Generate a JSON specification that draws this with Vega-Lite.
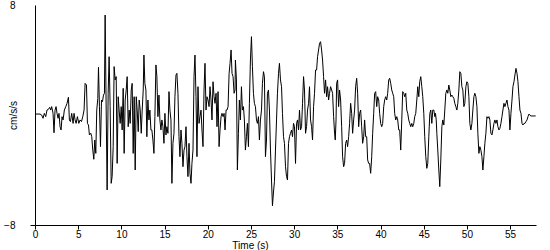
{
  "$schema": "https://vega.github.io/schema/vega-lite/v6.json",
  "autosize": {"type": "none"},
  "padding": {"left": 35, "top": 5, "right": 14, "bottom": 25},
  "width": 501,
  "height": 220,
  "background": "white",
  "config": {
    "view": {"stroke": null},
    "font": "Liberation Sans",
    "axis": {"grid": false, "domainColor": "black", "labelColor": "black", "titleColor": "black", "labelFont": "Liberation Sans", "titleFont": "Liberation Sans", "labelFontSize": 10, "titleFontSize": 10, "titleFontWeight": "normal"}
  },
  "data": {"values": [
    {"t":0,"a":0.07},{"t":0.58,"a":0.07},{"t":0.77,"a":0.0},{"t":0.93,"a":-0.24},{"t":1.08,"a":0.12},{"t":1.24,"a":-0.12},{"t":1.39,"a":0.36},{"t":1.55,"a":0.41},{"t":1.70,"a":0.56},{"t":1.82,"a":0.36},{"t":1.93,"a":0.61},{"t":2.09,"a":0.12},{"t":2.20,"a":-1.29},{"t":2.32,"a":0.36},{"t":2.44,"a":0.61},{"t":2.55,"a":0.12},{"t":2.67,"a":-0.24},{"t":2.78,"a":0.12},{"t":2.90,"a":-0.85},{"t":3.02,"a":-1.09},{"t":3.13,"a":-0.12},{"t":3.25,"a":-0.36},{"t":3.40,"a":0.36},{"t":3.56,"a":0.61},{"t":3.71,"a":0.85},{"t":3.87,"a":1.29},{"t":3.98,"a":-0.36},{"t":4.10,"a":-0.48},{"t":4.25,"a":0.12},{"t":4.41,"a":-0.61},{"t":4.52,"a":0.12},{"t":4.64,"a":-0.36},{"t":4.76,"a":-0.61},{"t":4.91,"a":-0.12},{"t":5.07,"a":-0.61},{"t":5.22,"a":-0.36},{"t":5.38,"a":-0.48},{"t":5.53,"a":-0.12},{"t":5.68,"a":0.36},{"t":5.80,"a":2.30},{"t":5.96,"a":2.18},{"t":6.07,"a":-0.61},{"t":6.19,"a":-0.73},{"t":6.30,"a":-1.45},{"t":6.46,"a":-1.33},{"t":6.57,"a":-1.58},{"t":6.69,"a":-2.55},{"t":6.81,"a":-3.22},{"t":6.92,"a":-1.82},{"t":7.04,"a":-2.79},{"t":7.15,"a":0.36},{"t":7.27,"a":1.21},{"t":7.35,"a":3.47},{"t":7.46,"a":0.61},{"t":7.58,"a":-2.30},{"t":7.70,"a":1.09},{"t":7.81,"a":0.97},{"t":7.93,"a":1.45},{"t":8.04,"a":1.58},{"t":8.12,"a":7.27},{"t":8.24,"a":0.36},{"t":8.35,"a":-5.45},{"t":8.47,"a":1.58},{"t":8.58,"a":4.24},{"t":8.70,"a":0.61},{"t":8.82,"a":-4.97},{"t":8.93,"a":-4.48},{"t":9.05,"a":-2.30},{"t":9.16,"a":3.52},{"t":9.28,"a":2.55},{"t":9.40,"a":2.79},{"t":9.51,"a":-3.52},{"t":9.63,"a":1.33},{"t":9.74,"a":0.36},{"t":9.86,"a":-0.61},{"t":9.98,"a":0.61},{"t":10.09,"a":-1.09},{"t":10.21,"a":1.94},{"t":10.32,"a":-2.79},{"t":10.44,"a":1.09},{"t":10.56,"a":1.82},{"t":10.67,"a":2.79},{"t":10.79,"a":-0.85},{"t":10.90,"a":0.36},{"t":11.02,"a":-0.61},{"t":11.14,"a":1.82},{"t":11.25,"a":2.30},{"t":11.37,"a":-2.79},{"t":11.48,"a":1.33},
    {"t":11.60,"a":-4.00},{"t":11.72,"a":1.33},{"t":11.83,"a":0.36},{"t":11.95,"a":-1.21},{"t":12.06,"a":1.09},{"t":12.18,"a":0.36},{"t":12.30,"a":-1.33},{"t":12.41,"a":0.36},{"t":12.53,"a":1.82},{"t":12.61,"a":4.36},{"t":12.72,"a":2.30},{"t":12.84,"a":1.82},{"t":12.95,"a":-1.58},{"t":13.07,"a":1.09},{"t":13.19,"a":-0.36},{"t":13.30,"a":0.36},{"t":13.42,"a":-1.09},{"t":13.53,"a":-1.09},{"t":13.65,"a":-1.82},{"t":13.77,"a":-2.79},{"t":13.88,"a":-0.12},{"t":14.00,"a":3.64},{"t":14.11,"a":2.79},{"t":14.23,"a":-0.12},{"t":14.35,"a":1.45},{"t":14.46,"a":-0.36},{"t":14.58,"a":-1.09},{"t":14.69,"a":-0.36},{"t":14.81,"a":-0.85},{"t":14.93,"a":-2.06},{"t":15.04,"a":0.12},{"t":15.16,"a":-1.45},{"t":15.27,"a":-0.85},{"t":15.39,"a":-1.33},{"t":15.51,"a":1.70},{"t":15.62,"a":0.36},{"t":15.74,"a":-0.36},{"t":15.85,"a":-4.97},{"t":15.97,"a":-2.06},{"t":16.09,"a":-1.33},{"t":16.20,"a":1.33},{"t":16.32,"a":2.91},{"t":16.43,"a":3.03},{"t":16.55,"a":1.58},{"t":16.67,"a":-1.58},{"t":16.78,"a":-3.03},{"t":16.90,"a":-1.09},{"t":17.01,"a":-2.06},{"t":17.13,"a":-3.76},{"t":17.25,"a":-2.55},{"t":17.36,"a":-2.30},{"t":17.48,"a":-0.85},{"t":17.59,"a":-3.03},{"t":17.71,"a":-4.48},{"t":17.83,"a":-2.06},{"t":17.94,"a":-4.24},{"t":18.06,"a":-4.97},{"t":18.17,"a":-3.52},{"t":18.29,"a":-2.55},{"t":18.41,"a":2.79},{"t":18.52,"a":4.36},{"t":18.64,"a":1.33},{"t":18.75,"a":-3.03},{"t":18.87,"a":2.06},{"t":18.99,"a":-0.61},{"t":19.10,"a":-0.12},{"t":19.22,"a":0.36},{"t":19.33,"a":-1.09},{"t":19.45,"a":-2.30},{"t":19.57,"a":1.82},{"t":19.68,"a":3.76},{"t":19.80,"a":0.36},{"t":19.91,"a":1.33},{"t":20.03,"a":1.09},{"t":20.15,"a":0.61},{"t":20.26,"a":2.06},{"t":20.38,"a":1.09},{"t":20.49,"a":-0.36},{"t":20.61,"a":2.42},{"t":20.73,"a":1.33},{"t":20.84,"a":0.85},{"t":20.96,"a":1.58},{"t":21.07,"a":-0.85},{"t":21.19,"a":1.70},{"t":21.31,"a":-2.30},{"t":21.42,"a":-1.09},{"t":21.54,"a":-0.12},{"t":21.65,"a":0.12},{"t":21.77,"a":-0.12},{"t":21.89,"a":0.12},{"t":22.00,"a":-1.09},{"t":22.12,"a":0.36},{"t":22.23,"a":0.36},{"t":22.35,"a":0.61},{"t":22.47,"a":3.03},{"t":22.58,"a":3.76},{"t":22.70,"a":4.73},{"t":22.81,"a":3.03},{"t":22.93,"a":2.79},{"t":23.05,"a":1.58},{"t":23.16,"a":1.82},
    {"t":23.20,"a":4.00},{"t":23.32,"a":2.55},{"t":23.43,"a":-4.00},{"t":23.55,"a":-1.33},{"t":23.66,"a":1.09},{"t":23.78,"a":-0.36},{"t":23.90,"a":2.06},{"t":24.01,"a":0.36},{"t":24.13,"a":0.61},{"t":24.24,"a":-0.36},{"t":24.36,"a":-2.55},{"t":24.48,"a":-1.58},{"t":24.59,"a":-0.61},{"t":24.71,"a":-2.30},{"t":24.82,"a":0.85},{"t":24.94,"a":4.00},{"t":25.06,"a":5.70},{"t":25.17,"a":3.52},{"t":25.29,"a":1.58},{"t":25.40,"a":0.85},{"t":25.52,"a":0.61},{"t":25.64,"a":-0.36},{"t":25.75,"a":-0.61},{"t":25.87,"a":-0.12},{"t":25.98,"a":-1.82},{"t":26.10,"a":-0.36},{"t":26.22,"a":0.36},{"t":26.33,"a":2.30},{"t":26.45,"a":3.15},{"t":26.56,"a":2.79},{"t":26.68,"a":-3.03},{"t":26.80,"a":-1.82},{"t":26.91,"a":1.58},{"t":27.03,"a":1.82},{"t":27.14,"a":0.36},{"t":27.26,"a":-2.55},{"t":27.38,"a":-4.73},{"t":27.49,"a":-6.6},{"t":27.61,"a":-5.6},{"t":27.72,"a":-4.85},{"t":27.84,"a":-2.55},{"t":27.96,"a":-0.36},{"t":28.07,"a":1.58},{"t":28.19,"a":3.03},{"t":28.30,"a":3.76},{"t":28.42,"a":2.55},{"t":28.54,"a":2.06},{"t":28.65,"a":0.12},{"t":28.77,"a":-1.58},{"t":28.88,"a":-2.06},{"t":29.00,"a":-3.76},{"t":29.12,"a":-4.48},{"t":29.23,"a":-4.73},{"t":29.35,"a":-2.06},{"t":29.46,"a":-1.58},{"t":29.58,"a":-1.33},{"t":29.70,"a":-1.09},{"t":29.81,"a":-1.58},{"t":29.93,"a":-0.61},{"t":30.04,"a":-0.85},{"t":30.16,"a":-3.52},{"t":30.28,"a":-0.61},{"t":30.39,"a":-0.36},{"t":30.51,"a":-1.09},{"t":30.62,"a":0.36},{"t":30.74,"a":-1.09},{"t":30.86,"a":-0.85},{"t":30.97,"a":0.85},{"t":31.09,"a":2.79},{"t":31.20,"a":1.82},{"t":31.32,"a":-1.33},{"t":31.44,"a":-0.85},{"t":31.55,"a":0.36},{"t":31.67,"a":0.85},{"t":31.78,"a":2.06},{"t":31.90,"a":-0.36},{"t":32.02,"a":-0.85},{"t":32.13,"a":-1.82},{"t":32.25,"a":0.61},{"t":32.36,"a":1.58},{"t":32.48,"a":3.27},{"t":32.60,"a":3.27},{"t":32.71,"a":4.24},{"t":32.83,"a":4.73},{"t":32.94,"a":5.21},{"t":33.06,"a":5.33},{"t":33.18,"a":4.73},{"t":33.29,"a":4.00},{"t":33.41,"a":2.79},{"t":33.52,"a":1.58},{"t":33.64,"a":2.55},{"t":33.76,"a":1.33},{"t":33.87,"a":2.06},{"t":33.99,"a":1.09},{"t":34.10,"a":1.58},{"t":34.22,"a":2.06},{"t":34.34,"a":1.82},{"t":34.45,"a":1.58},{"t":34.57,"a":-0.12},{"t":34.68,"a":-1.33},{"t":34.76,"a":-1.82},
    {"t":34.85,"a":-0.36},{"t":34.92,"a":2.30},{"t":35.03,"a":2.55},{"t":35.15,"a":0.61},{"t":35.26,"a":1.82},{"t":35.38,"a":1.09},{"t":35.50,"a":-0.85},{"t":35.61,"a":-3.03},{"t":35.73,"a":-3.76},{"t":35.84,"a":-3.52},{"t":35.96,"a":-2.06},{"t":36.08,"a":-1.82},{"t":36.19,"a":-2.30},{"t":36.31,"a":-1.58},{"t":36.42,"a":-0.61},{"t":36.54,"a":0.85},{"t":36.66,"a":0.12},{"t":36.77,"a":-1.33},{"t":36.89,"a":-0.36},{"t":37.00,"a":0.36},{"t":37.12,"a":2.06},{"t":37.24,"a":2.67},{"t":37.35,"a":1.58},{"t":37.47,"a":-0.85},{"t":37.58,"a":0.12},{"t":37.70,"a":0.36},{"t":37.82,"a":-0.85},{"t":37.93,"a":-2.06},{"t":38.05,"a":-1.58},{"t":38.16,"a":-0.36},{"t":38.28,"a":-1.58},{"t":38.40,"a":-1.58},{"t":38.51,"a":-3.27},{"t":38.63,"a":-3.52},{"t":38.74,"a":-3.52},{"t":38.86,"a":-4.24},{"t":38.98,"a":-3.03},{"t":39.09,"a":-1.33},{"t":39.21,"a":0.12},{"t":39.32,"a":1.58},{"t":39.44,"a":1.70},{"t":39.56,"a":0.61},{"t":39.67,"a":1.33},{"t":39.79,"a":1.09},{"t":39.90,"a":0.12},{"t":40.02,"a":-0.61},{"t":40.14,"a":-0.85},{"t":40.25,"a":-0.61},{"t":40.37,"a":0.61},{"t":40.48,"a":1.09},{"t":40.60,"a":1.33},{"t":40.72,"a":1.09},{"t":40.83,"a":1.58},{"t":40.95,"a":2.55},{"t":41.06,"a":2.67},{"t":41.18,"a":2.30},{"t":41.30,"a":1.82},{"t":41.41,"a":1.58},{"t":41.53,"a":1.33},{"t":41.64,"a":0.12},{"t":41.76,"a":-0.36},{"t":41.88,"a":-0.12},{"t":41.99,"a":-0.36},{"t":42.11,"a":-1.09},{"t":42.22,"a":-1.09},{"t":42.34,"a":-2.55},{"t":42.46,"a":-0.36},{"t":42.57,"a":1.70},{"t":42.69,"a":1.58},{"t":42.80,"a":1.33},{"t":42.92,"a":1.58},{"t":43.04,"a":0.36},{"t":43.15,"a":0.12},{"t":43.27,"a":-0.36},{"t":43.38,"a":-0.61},{"t":43.50,"a":-0.85},{"t":43.62,"a":-0.61},{"t":43.73,"a":-0.85},{"t":43.85,"a":-0.61},{"t":43.96,"a":-0.12},{"t":44.08,"a":0.12},{"t":44.20,"a":1.09},{"t":44.31,"a":2.06},{"t":44.43,"a":1.33},{"t":44.54,"a":2.42},{"t":44.66,"a":2.79},{"t":44.78,"a":2.06},{"t":44.89,"a":1.33},{"t":45.01,"a":0.12},{"t":45.12,"a":-1.58},{"t":45.24,"a":-3.03},{"t":45.36,"a":-3.88},{"t":45.47,"a":-3.52},{"t":45.59,"a":-1.58},{"t":45.71,"a":0.12},{"t":45.82,"a":0.36},{"t":45.94,"a":-0.61},{"t":46.05,"a":0.36},{"t":46.17,"a":0.36},{"t":46.29,"a":-0.12},{"t":46.36,"a":0.12},
    {"t":46.45,"a":-0.36},{"t":46.52,"a":-1.33},{"t":46.63,"a":-2.55},{"t":46.75,"a":-4.00},{"t":46.86,"a":-5.21},{"t":46.98,"a":-3.27},{"t":47.10,"a":-0.85},{"t":47.21,"a":-0.36},{"t":47.33,"a":-0.73},{"t":47.44,"a":0.36},{"t":47.56,"a":1.58},{"t":47.68,"a":1.82},{"t":47.79,"a":1.58},{"t":47.91,"a":2.18},{"t":48.02,"a":1.82},{"t":48.14,"a":1.33},{"t":48.26,"a":1.45},{"t":48.37,"a":1.33},{"t":48.49,"a":1.21},{"t":48.60,"a":0.85},{"t":48.72,"a":0.61},{"t":48.84,"a":0.36},{"t":48.95,"a":0.85},{"t":49.07,"a":1.82},{"t":49.18,"a":3.15},{"t":49.30,"a":3.03},{"t":49.42,"a":2.06},{"t":49.53,"a":1.82},{"t":49.65,"a":0.61},{"t":49.76,"a":0.85},{"t":49.88,"a":2.06},{"t":50.00,"a":2.42},{"t":50.11,"a":2.30},{"t":50.23,"a":1.33},{"t":50.34,"a":-0.61},{"t":50.46,"a":-1.09},{"t":50.58,"a":-0.61},{"t":50.69,"a":0.36},{"t":50.81,"a":1.33},{"t":50.92,"a":1.58},{"t":51.04,"a":1.33},{"t":51.16,"a":0.61},{"t":51.27,"a":-1.33},{"t":51.39,"a":-2.79},{"t":51.50,"a":-2.30},{"t":51.62,"a":-2.55},{"t":51.74,"a":-3.03},{"t":51.85,"a":-4.00},{"t":51.97,"a":-3.03},{"t":52.08,"a":-2.06},{"t":52.20,"a":-1.33},{"t":52.32,"a":-0.12},{"t":52.43,"a":-0.24},{"t":52.55,"a":-0.12},{"t":52.66,"a":-0.36},{"t":52.78,"a":-1.33},{"t":52.90,"a":-1.45},{"t":53.01,"a":-1.09},{"t":53.13,"a":-0.61},{"t":53.24,"a":-0.36},{"t":53.36,"a":-0.61},{"t":53.48,"a":-0.36},{"t":53.59,"a":-0.85},{"t":53.71,"a":-1.09},{"t":53.82,"a":-0.97},{"t":53.94,"a":-0.61},{"t":54.06,"a":-0.12},{"t":54.17,"a":0.36},{"t":54.29,"a":0.85},{"t":54.40,"a":0.61},{"t":54.52,"a":0.85},{"t":54.64,"a":1.09},{"t":54.75,"a":0.61},{"t":54.87,"a":0.36},{"t":54.98,"a":-1.09},{"t":55.10,"a":0.12},{"t":55.22,"a":1.09},{"t":55.33,"a":2.06},{"t":55.45,"a":2.42},{"t":55.56,"a":2.91},{"t":55.68,"a":3.39},{"t":55.80,"a":3.03},{"t":55.91,"a":2.42},{"t":56.03,"a":1.33},{"t":56.14,"a":0.36},{"t":56.26,"a":0.12},{"t":56.38,"a":-0.61},{"t":56.49,"a":-0.73},{"t":56.61,"a":-0.61},{"t":56.72,"a":-0.61},{"t":56.84,"a":-0.48},{"t":56.96,"a":-0.36},{"t":57.07,"a":-0.12},{"t":57.19,"a":0.07},{"t":57.30,"a":-0.02},{"t":57.42,"a":-0.07},{"t":57.54,"a":-0.07},{"t":57.96,"a":-0.07}
  ]},
  "mark": {"type": "line", "color": "black", "strokeWidth": 1, "interpolate": "linear"},
  "encoding": {
    "x": {"field": "t", "type": "quantitative", "scale": {"domain": [0, 58], "nice": false, "zero": false},
      "axis": {"values": [0,5,10,15,20,25,30,35,40,45,50,55], "title": "Time (s)", "tickSize": 4, "tickColor": "black", "labelPadding": 0, "labelFlush": false, "labelOverlap": false, "titleX": 215, "titleY": 23, "titleBaseline": "alphabetic", "titleAnchor": null, "titleAlign": "center"}},
    "y": {"field": "a", "type": "quantitative", "scale": {"domain": [-8, 8], "nice": false, "zero": false},
      "axis": {"values": [-8, 8], "title": "cm/s/s", "tickSize": 5, "tickColor": {"condition": {"test": "datum.value === -8", "value": "black"}, "value": "transparent"}, "labelPadding": 15, "labelFlush": false, "labelOverlap": false, "titleX": -22, "titleY": 110, "titleAngle": 270, "titleAlign": "center", "titleBaseline": "middle", "titleAnchor": null}}
  }
}
